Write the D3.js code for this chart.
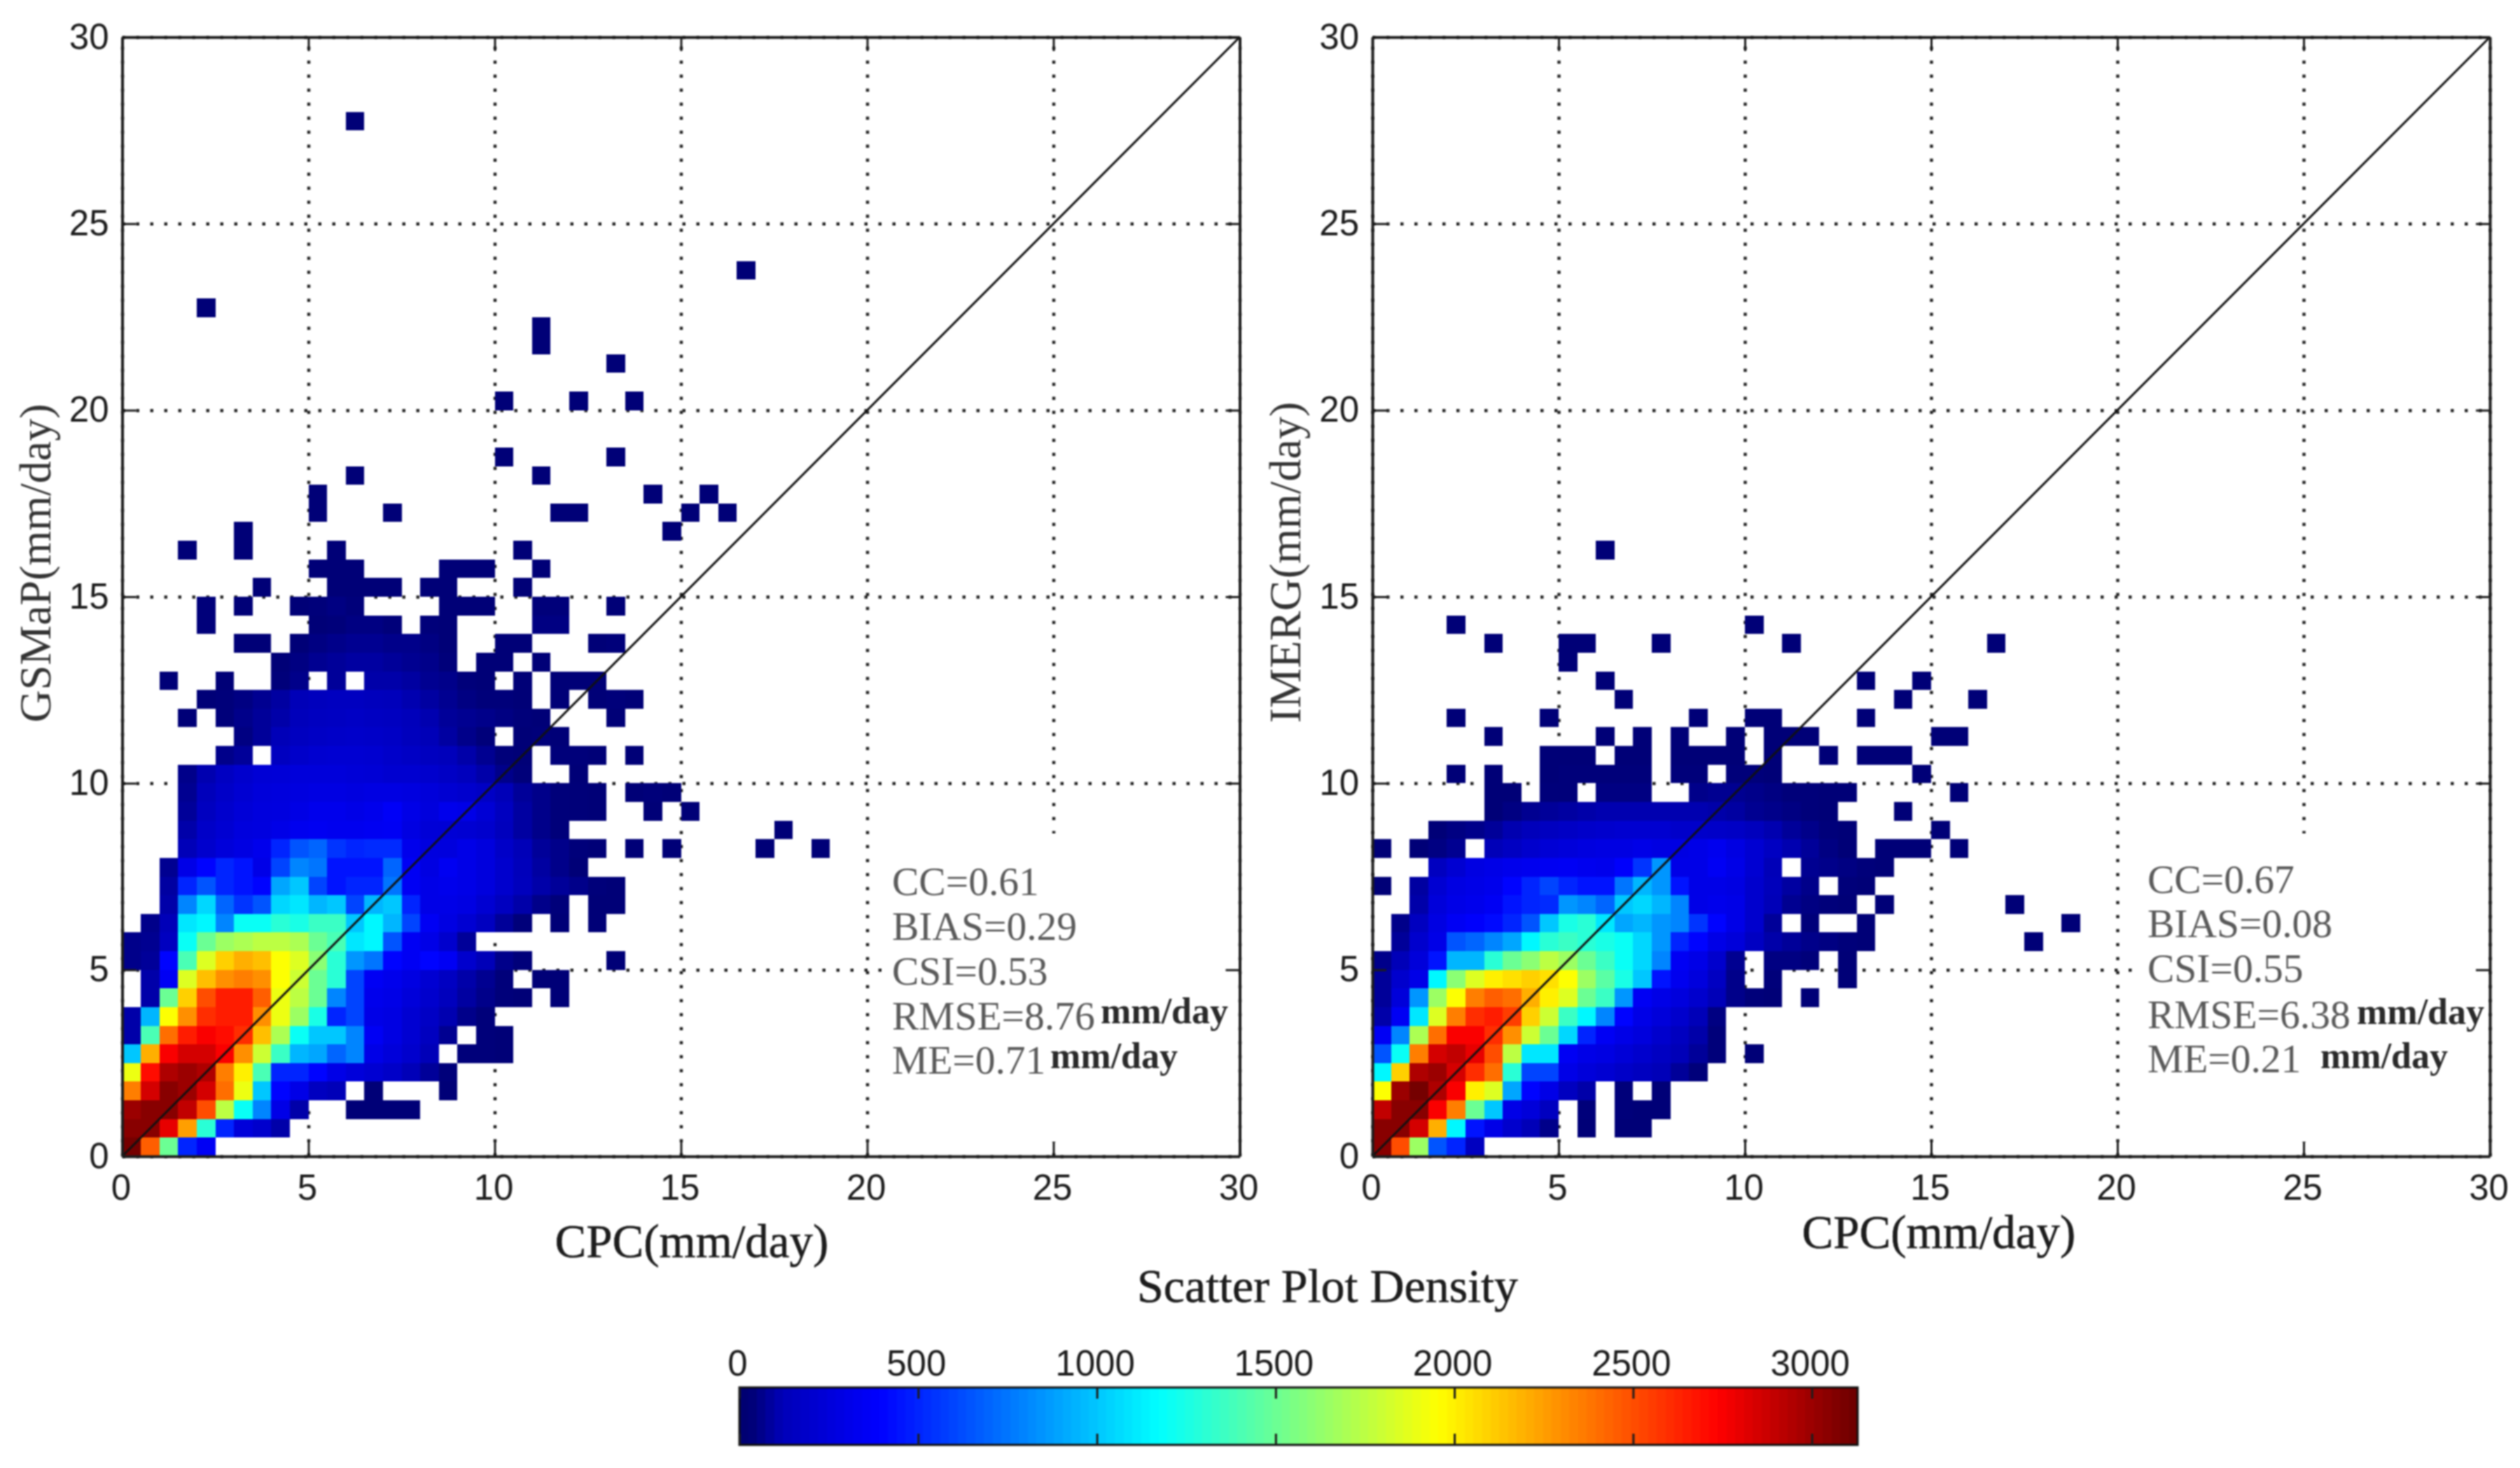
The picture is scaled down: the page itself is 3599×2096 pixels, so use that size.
<!DOCTYPE html>
<html>
<head>
<meta charset="utf-8">
<script src="https://cdnjs.cloudflare.com/ajax/libs/d3/7.8.5/d3.min.js"></script>
<style>
  html, body { margin: 0; padding: 0; background: #fff; }
  svg { display: block; filter: blur(1px); }
</style>
</head>
<body>
<svg id="chart" width="3599" height="2096"></svg>
<script>
// bin size is 0.5 mm/day, rows run from y=0 upward, columns from x=0 to the right
const binSize = 0.5;
const outlierCount = 30;
const axisTicks = [0, 5, 10, 15, 20, 25, 30];
const colorTicks = [0, 500, 1000, 1500, 2000, 2500, 3000];
const colorMax = 3128;

const gsmapCounts = [
  [3100,2450,1500,500,350],
  [3050,3050,2800,2250,1300,500,250,200,100],
  [3000,3050,3050,2900,2500,1750,1200,800,300,100,0,0,30,30,30,30],
  [2350,2850,3050,3000,2850,2400,1900,1000,400,300,150,120,0,30,0,0,0,30],
  [1900,2700,2950,3000,2950,2350,2000,1400,500,500,400,300,250,220,180,120,80,40],
  [1000,2200,2750,2850,2850,2750,2300,1800,1350,950,900,700,800,300,250,200,120,0,40,40,30],
  [100,1400,2400,2650,2750,2700,2600,2150,1700,1200,1000,1000,800,350,280,220,150,70,0,40,30],
  [100,950,1950,2300,2600,2650,2650,2300,1900,1650,1250,500,600,300,280,220,170,110,60,40],
  [0,100,1500,2100,2500,2650,2650,2450,1900,1750,1500,800,600,320,300,250,200,140,90,60,40,30,0,30],
  [0,100,350,1850,2150,2300,2350,2300,1950,1800,1500,1300,600,350,320,280,220,160,100,70,40,0,30,30],
  [60,80,400,1400,1850,2100,2200,2150,1950,1850,1600,1300,850,750,400,350,400,350,200,120,60,40,0,0,0,0,30],
  [60,70,150,1200,1500,1650,1700,1750,1750,1700,1500,1400,1100,1150,650,350,300,200,80],
  [0,60,120,1100,1150,800,1200,1200,1300,1250,1350,1350,1000,1150,950,600,350,280,220,150,80,40,0,30,0,30],
  [0,0,100,800,1050,700,550,650,1050,1100,950,1000,600,950,1000,500,300,300,280,220,150,100,60,40,0,30,30],
  [0,0,90,500,650,500,450,400,900,1000,600,450,500,500,750,350,300,320,300,260,200,140,100,80,60,40,30],
  [0,0,70,300,400,500,450,300,600,800,750,450,450,450,700,350,280,340,300,260,200,130,90,60,30],
  [0,0,0,120,200,250,280,320,500,650,700,550,500,520,520,320,270,260,300,260,180,120,80,60,40,30,0,30,0,30,0,0,0,0,30,0,0,30],
  [0,0,0,100,180,220,260,270,300,330,340,330,330,340,350,280,240,230,220,200,140,90,60,40,0,0,0,0,0,0,0,0,0,0,0,30],
  [0,0,0,80,150,200,240,260,270,290,320,320,300,320,360,300,260,320,300,230,150,90,60,40,35,30,0,0,30,0,30],
  [0,0,0,70,130,180,220,250,260,270,280,280,270,280,280,270,250,220,200,170,120,80,60,40,35,30,0,30,40,30],
  [0,0,0,60,110,160,200,230,240,250,250,250,240,230,210,210,200,170,140,100,60,40,0,0,30],
  [0,0,0,0,0,60,80,0,150,190,210,220,220,210,190,170,150,130,100,70,40,30,0,40,40,30,0,30],
  [0,0,0,0,0,0,50,80,120,150,170,180,190,180,170,140,120,90,60,40,0,30,40,30],
  [0,0,0,30,0,40,60,80,100,130,150,160,170,160,150,130,110,80,70,60,50,40,30,0,0,0,30],
  [0,0,0,0,30,40,50,70,90,120,140,150,150,140,130,110,90,70,50,40,40,30,0,30,0,30,40,30],
  [0,0,30,0,0,30,0,0,40,60,0,80,0,100,100,90,70,60,40,30,0,30,0,30,30,30],
  [0,0,0,0,0,0,0,0,30,50,70,80,90,90,80,70,60,40,0,30,30,0,30],
  [0,0,0,0,0,0,30,30,0,30,50,60,70,70,60,60,50,30,0,0,30,30,0,0,0,30,40],
  [0,0,0,0,40,0,0,0,0,0,30,40,50,50,40,0,40,30,0,0,0,0,50,50],
  [0,0,0,0,40,0,30,0,0,30,40,50,40,0,0,0,0,30,30,30,0,0,40,40,0,0,30]
];

// single cells above y=15, lower edges of the bins in mm/day
const gsmapSparseX = [3.5,5.5,6,6.5,7,8,8.5,10.5,5,5.5,6,8.5,9,9.5,11,1.5,3,5.5,10.5,3,14.5,5,7,11.5,12,15,16,5,14,15.5,6,11,10,13,10,12,13.5,13,11,11,2,16.5,6];
const gsmapSparseY = [15,15,15,15,15,15,15,15,15.5,15.5,15.5,15.5,15.5,15.5,15.5,16,16,16,16,16.5,16.5,17,17,17,17,17,17,17.5,17.5,17.5,18,18,18.5,18.5,20,20,20,21,21.5,22,22.5,23.5,27.5];

const imergCounts = [
  [3050,2500,1650,650,500,150],
  [3050,3050,2850,2200,1150,450,300,200,120,60,0,30,0,30,30],
  [2900,3050,3050,2750,2350,1500,1000,300,250,150,0,40,0,40,30,30],
  [1950,3000,3100,2950,2750,2000,1850,900,400,300,150,100,0,40,0,30],
  [1150,2100,2950,3000,2850,2600,2400,1300,600,600,300,250,220,180,150,120,80,40],
  [650,1200,2350,2850,2900,2800,2500,1750,1100,1100,350,300,280,240,200,160,120,80,40,0,30],
  [350,800,1700,2400,2750,2750,2600,2300,1800,1500,1050,500,350,300,260,200,150,100,40],
  [100,350,1100,1850,2350,2600,2650,2550,2100,1800,1350,1150,800,400,300,250,200,120,50],
  [80,250,850,1650,1950,2350,2450,2400,2200,2000,1850,1500,1350,850,350,300,260,200,120,60,40,30,0,30],
  [80,200,300,1150,1600,1850,2000,2050,2100,2050,1950,1650,1450,1250,1000,450,330,260,160,60,0,40,0,0,0,30],
  [60,120,250,450,950,950,1300,1500,1600,1750,1650,1500,1350,1200,1050,800,350,300,200,70,0,50,50,40,0,30],
  [0,80,200,300,650,700,800,900,1150,1300,1350,1300,1250,1200,1050,850,500,400,300,250,160,100,80,60,50,40,30,0,0,0,0,0,0,0,0,30],
  [0,60,150,280,350,380,420,500,650,1000,1250,1300,1100,900,950,850,800,550,400,300,200,80,0,40,0,0,30,0,0,0,0,0,0,0,0,0,0,30],
  [0,0,100,250,300,320,350,450,500,520,850,800,700,1000,1050,950,800,300,320,300,200,120,70,50,40,30,0,30,0,0,0,0,0,0,30],
  [30,0,90,220,280,300,320,400,500,600,500,450,450,750,950,850,450,300,300,280,200,130,90,60,0,40,30],
  [0,0,0,150,220,280,300,320,330,340,350,330,320,380,550,850,300,300,350,300,220,120,0,70,60,50,40,30],
  [30,0,30,50,70,0,120,160,200,230,250,270,280,280,300,280,280,300,330,280,220,160,110,80,50,30,0,30,30,30,0,30],
  [0,0,0,30,50,60,80,110,130,150,170,190,200,210,210,210,190,190,180,170,140,110,80,60,40,30,0,0,0,0,30],
  [0,0,0,0,0,0,30,50,70,80,90,100,110,110,110,110,110,110,100,90,70,60,50,40,30,0,0,0,30],
  [0,0,0,0,0,0,30,30,0,40,40,0,50,50,50,0,0,60,70,70,60,50,40,40,30,30,0,0,0,0,0,30],
  [0,0,0,0,30,0,30,0,0,30,40,40,40,40,40,0,40,40,0,40,40,30,0,0,0,0,0,0,0,30],
  [0,0,0,0,0,0,0,0,0,30,30,30,0,30,30,0,30,30,30,30,0,30,0,0,30,0,30,30,30]
];

const imergSparseX = [3,6,7,8,9.5,10.5,11,11.5,15,15.5,2,4.5,8.5,10,10.5,13,6.5,14,16,6,13,14.5,5,3,5,5.5,7.5,11,16.5,2,10,6];
const imergSparseY = [11,11,11,11,11,11,11,11,11,11,11.5,11.5,11.5,11.5,11.5,11.5,12,12,12,12.5,12.5,12.5,13,13.5,13.5,13.5,13.5,13.5,13.5,14,14,16];

const panels = [
  {counts: gsmapCounts, sparseX: gsmapSparseX, sparseY: gsmapSparseY, left: 174.5, right: 1770.5,
   yLabel: "GSMaP(mm/day)", yLabelX: 72, yLabelY: 804, xLabelX: 988, xLabelY: 1795,
   stats: ["CC=0.61", "BIAS=0.29", "CSI=0.53", "RMSE=8.76", "ME=0.71"], statX: 1274, statY: [1278, 1341.5, 1405.5, 1469.5, 1533],
   units: [[1572, 1461], [1500, 1525]], patch: [1262, 1190, 505, 440]},
  {counts: imergCounts, sparseX: imergSparseX, sparseY: imergSparseY, left: 1960, right: 3556,
   yLabel: "IMERG(mm/day)", yLabelX: 1857, yLabelY: 803, xLabelX: 2769, xLabelY: 1782,
   stats: ["CC=0.67", "BIAS=0.08", "CSI=0.55", "RMSE=6.38", "ME=0.21"], statX: 3067, statY: [1275, 1338, 1402, 1468, 1531],
   units: [[3366, 1462], [3314, 1525]], patch: [3045, 1190, 505, 440]}
];

const top_ = 53, bottom = 1651, tickLen = 20;
const sans = "'Liberation Sans', Arial, sans-serif";
const serif = "'Liberation Serif', 'Times New Roman', serif";
const ink = "#1c1c1c";

// jet colormap as in the bar at the bottom, the lowest counts stay navy
const jet = d3.scaleLinear()
  .domain([0, 40, 120, 391, 1173, 1955, 2737, colorMax])
  .range(["#00006e", "#00007a", "#0000b8", "#0000ff", "#00ffff", "#ffff00", "#ff0000", "#6a0000"])
  .clamp(true);

const svg = d3.select("#chart");
svg.append("rect").attr("width", 3599).attr("height", 2096).attr("fill", "#fff");

function styleAxis(g) {
  g.select(".domain").attr("stroke", ink).attr("stroke-width", 4);
  g.selectAll(".tick line").attr("stroke", ink).attr("stroke-width", 3);
  g.selectAll(".tick text").attr("font-family", sans).attr("font-size", 51).attr("fill", ink);
}

function drawPanel(p) {
  const g = svg.append("g");
  const x = d3.scaleLinear().domain([0, 30]).range([p.left, p.right]);
  const y = d3.scaleLinear().domain([0, 30]).range([bottom, top_]);
  const w = p.right - p.left, h = bottom - top_;

  // dotted grid sits under the cells
  const grid = g.append("g");
  grid.append("g").attr("transform", `translate(0,${bottom})`)
    .call(d3.axisBottom(x).tickValues(axisTicks).tickSize(-h).tickFormat(""))
    .call(s => s.select(".domain").remove());
  grid.append("g").attr("transform", `translate(${p.left},0)`)
    .call(d3.axisLeft(y).tickValues(axisTicks).tickSize(-w).tickFormat(""))
    .call(s => s.select(".domain").remove());
  grid.selectAll("line")
    .attr("stroke", "#222").attr("stroke-width", 4.5)
    .attr("stroke-dasharray", "4.5 15.5");

  // the statistics were pasted on a white box that hides the grid
  g.append("rect")
    .attr("x", p.patch[0]).attr("y", p.patch[1])
    .attr("width", p.patch[2]).attr("height", p.patch[3])
    .attr("fill", "#fff");

  const cells = [];
  p.counts.forEach((row, r) => row.forEach((v, c) => {
    if (v > 0) cells.push({x: c * binSize, y: r * binSize, v: v});
  }));
  p.sparseX.forEach((sx, i) => cells.push({x: sx, y: p.sparseY[i], v: outlierCount}));

  g.append("g").attr("shape-rendering", "crispEdges")
    .selectAll("rect").data(cells).join("rect")
    .attr("x", d => x(d.x))
    .attr("y", d => y(d.y + binSize))
    .attr("width", d => x(d.x + binSize) - x(d.x))
    .attr("height", d => y(d.y) - y(d.y + binSize))
    .attr("fill", d => jet(d.v));

  // 1:1 line
  g.append("line")
    .attr("x1", x(0)).attr("y1", y(0)).attr("x2", x(30)).attr("y2", y(30))
    .attr("stroke", "#111").attr("stroke-width", 3);

  // box with inward ticks on all four sides
  g.append("g").attr("transform", `translate(0,${bottom})`)
    .call(d3.axisBottom(x).tickValues(axisTicks).tickSizeInner(-tickLen).tickSizeOuter(0).tickPadding(26))
    .call(styleAxis)
    .call(s => s.selectAll(".tick text").attr("dx", -2));
  g.append("g").attr("transform", `translate(${p.left},0)`)
    .call(d3.axisLeft(y).tickValues(axisTicks).tickSizeInner(-tickLen).tickSizeOuter(0).tickPadding(19))
    .call(styleAxis);
  g.append("g").attr("transform", `translate(0,${top_})`)
    .call(d3.axisTop(x).tickValues(axisTicks).tickSizeInner(-tickLen).tickSizeOuter(0).tickFormat(""))
    .call(styleAxis);
  g.append("g").attr("transform", `translate(${p.right},0)`)
    .call(d3.axisRight(y).tickValues(axisTicks).tickSizeInner(-tickLen).tickSizeOuter(0).tickFormat(""))
    .call(styleAxis);

  g.append("text")
    .attr("x", p.xLabelX).attr("y", p.xLabelY)
    .attr("text-anchor", "middle")
    .attr("font-family", serif).attr("font-size", 67).attr("fill", ink)
    .attr("stroke", ink).attr("stroke-width", 0.6)
    .text("CPC(mm/day)");

  g.append("text")
    .attr("transform", `translate(${p.yLabelX},${p.yLabelY}) rotate(-90)`)
    .attr("text-anchor", "middle")
    .attr("font-family", serif).attr("font-size", 64).attr("fill", "#333")
    .text(p.yLabel);

  g.append("g").selectAll("text").data(p.stats).join("text")
    .attr("x", p.statX)
    .attr("y", (d, i) => p.statY[i])
    .attr("font-family", serif).attr("font-size", 57.5).attr("fill", "#5a5a5a")
    .text(d => d);

  g.append("g").selectAll("text").data(p.units).join("text")
    .attr("x", d => d[0]).attr("y", d => d[1])
    .attr("font-family", serif).attr("font-size", 52).attr("font-weight", "bold").attr("fill", "#2a2a2a")
    .text("mm/day");
}

panels.forEach(drawPanel);

svg.append("text")
  .attr("x", 1896).attr("y", 1859)
  .attr("text-anchor", "middle")
  .attr("font-family", serif).attr("font-size", 68).attr("fill", ink)
  .attr("stroke", ink).attr("stroke-width", 0.6)
  .text("Scatter Plot Density");

// colour bar
const barTop = 1981, barBottom = 2063;
const cx = d3.scaleLinear().domain([0, colorMax]).range([1056, 2653]);
const steps = d3.range(0, colorMax, colorMax / 128);
const bar = svg.append("g");
bar.append("g").attr("shape-rendering", "crispEdges")
  .selectAll("rect").data(steps).join("rect")
  .attr("x", d => cx(d))
  .attr("y", barTop)
  .attr("width", cx(colorMax / 128) - cx(0) + 1)
  .attr("height", barBottom - barTop)
  .attr("fill", d => jet(d + colorMax / 256));

bar.append("rect")
  .attr("x", cx(0)).attr("y", barTop)
  .attr("width", cx(colorMax) - cx(0)).attr("height", barBottom - barTop)
  .attr("fill", "none").attr("stroke", "#111").attr("stroke-width", 3);

bar.append("g").attr("transform", `translate(0,${barTop})`)
  .call(d3.axisTop(cx).tickValues(colorTicks).tickFormat(d3.format("d")).tickSizeInner(-16).tickSizeOuter(0).tickPadding(17))
  .call(styleAxis)
  .call(s => s.select(".domain").remove())
  .call(s => s.selectAll(".tick text").attr("dx", -3));

bar.append("g").attr("transform", `translate(0,${barBottom})`)
  .call(d3.axisBottom(cx).tickValues(colorTicks).tickSizeInner(-16).tickSizeOuter(0).tickFormat(""))
  .call(styleAxis)
  .call(s => s.select(".domain").remove());
</script>
</body>
</html>
